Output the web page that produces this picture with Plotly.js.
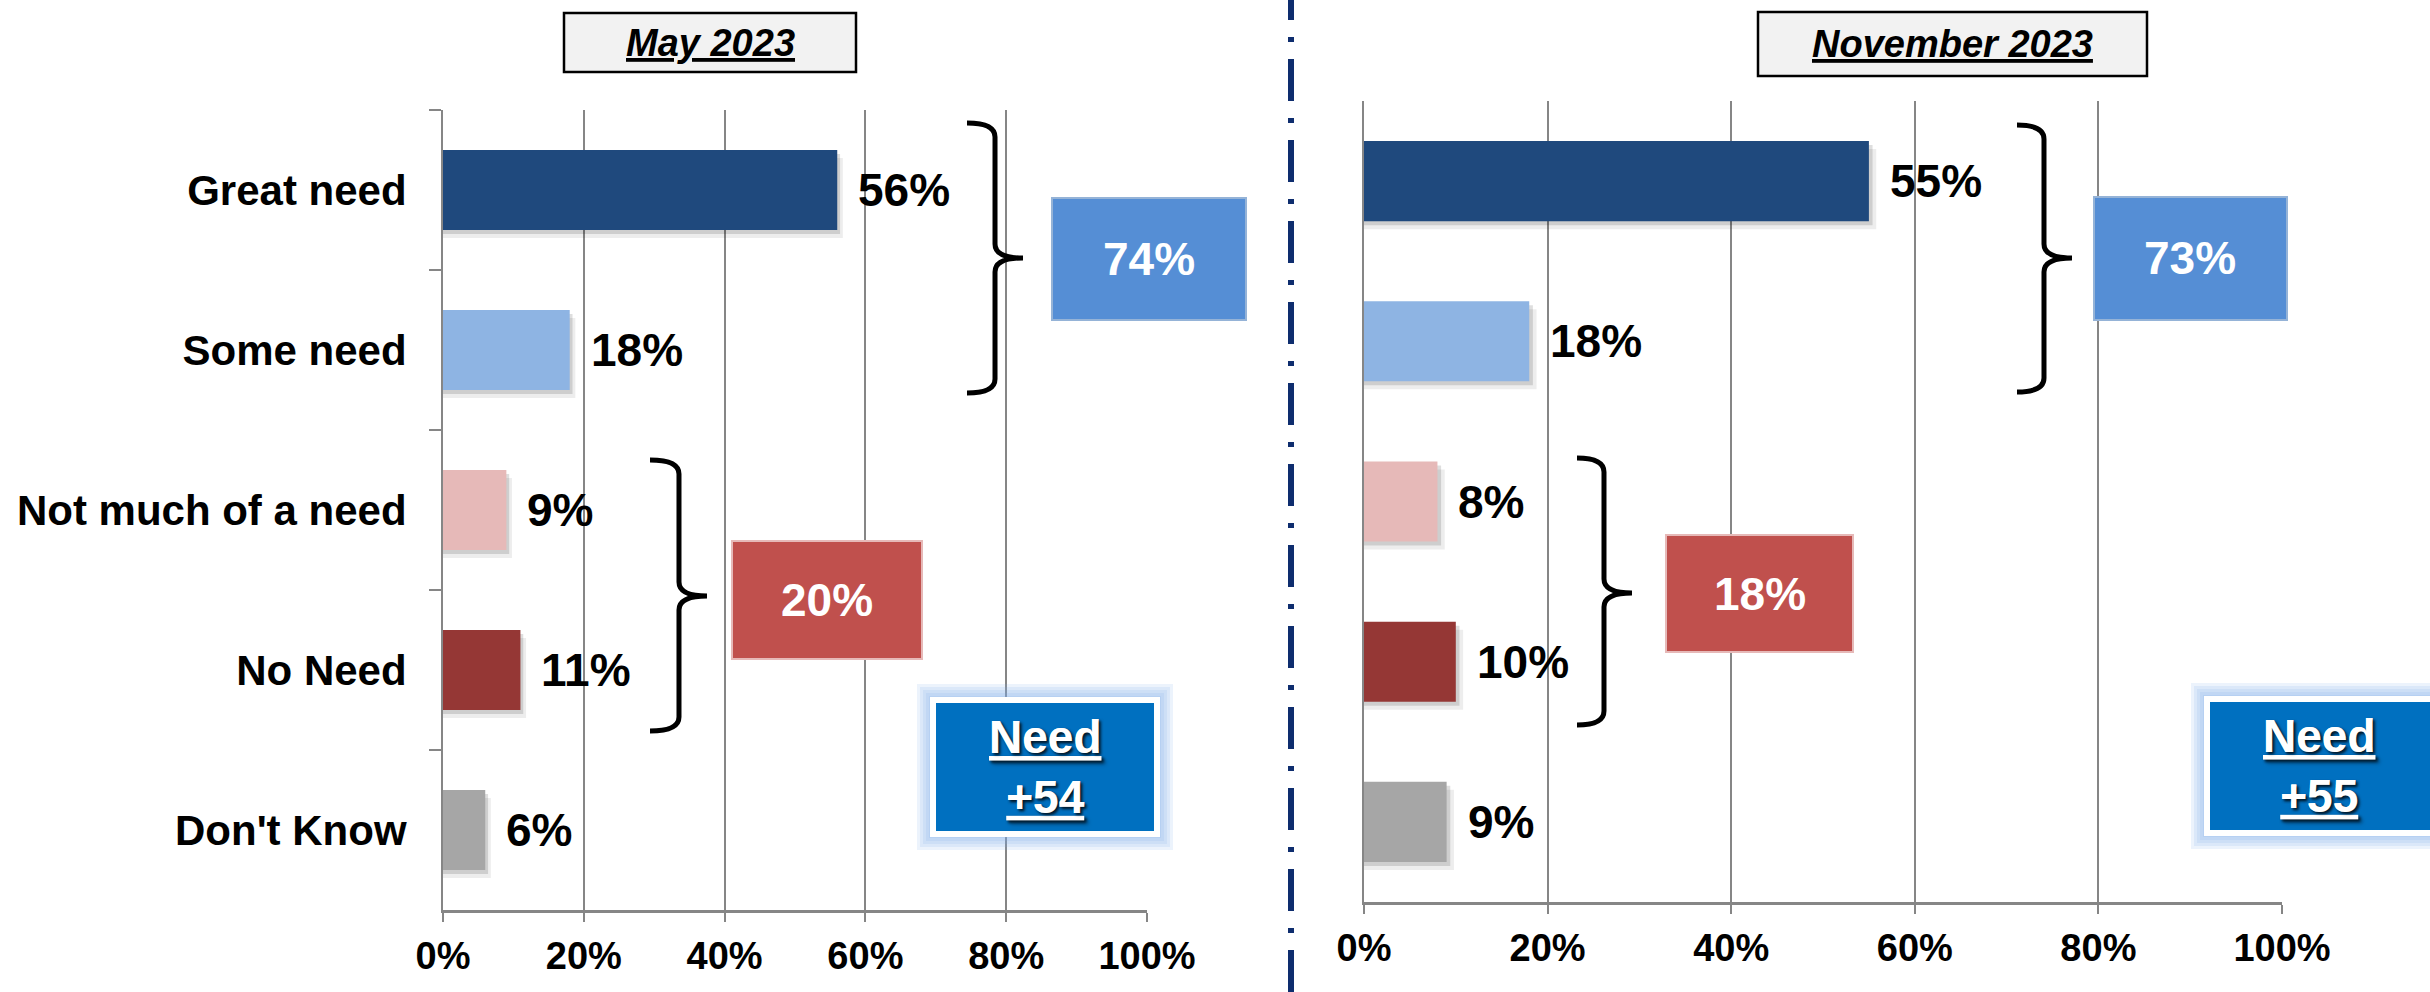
<!DOCTYPE html>
<html>
<head>
<meta charset="utf-8">
<script src="https://cdn.plot.ly/plotly-3.0.1.min.js"></script>
<style>html,body{margin:0;padding:0;background:#fff;}#chart{width:2430px;height:992px;}</style>
</head>
<body>
<div id="chart"></div>
<script>
// ---- data ----
const categories = ["Great need", "Some need", "Not much of a need", "No Need", "Don't Know"];
const may2023 = [56, 18, 9, 11, 6];
const nov2023 = [55, 18, 8, 10, 9];
const barColors = ["#1F497D", "#8EB4E3", "#E6B9B8", "#953735", "#A6A6A6"];
const xTickVals = [0, 20, 40, 60, 80, 100];
const xTickText = ["0%", "20%", "40%", "60%", "80%", "100%"];
const panelTitles = ["May 2023", "November 2023"];

// ---- layout helpers ----
const W = 2430, H = 992;
const px = x => x / W;
const py = y => 1 - y / H;
const FONT = "Arial, 'Liberation Sans', sans-serif";

const traces = [];
function addPanel(vals, xa, ya) {
  // soft shadow layers
  traces.push({type: 'bar', orientation: 'h', y: categories, x: vals.map(v => v + 0.8),
    xaxis: xa, yaxis: ya, width: 0.5, offset: -0.25 + 8 / 160,
    marker: {color: 'rgba(0,0,0,0.07)'}, hoverinfo: 'skip', showlegend: false});
  traces.push({type: 'bar', orientation: 'h', y: categories, x: vals.map(v => v + 0.4),
    xaxis: xa, yaxis: ya, width: 0.5, offset: -0.25 + 4 / 160,
    marker: {color: 'rgba(0,0,0,0.13)'}, hoverinfo: 'skip', showlegend: false});
  traces.push({type: 'bar', orientation: 'h', y: categories, x: vals,
    xaxis: xa, yaxis: ya, width: 0.5, offset: -0.25,
    marker: {color: barColors}, showlegend: false});
}
addPanel(may2023, 'x', 'y');
addPanel(nov2023, 'x2', 'y2');

const gridC = '#868686';
function xAxis(domain, anchor) {
  return {domain: domain, anchor: anchor, range: [0, 100], tickvals: xTickVals, ticktext: xTickText,
    showgrid: true, gridcolor: gridC, gridwidth: 2, zeroline: false,
    showline: true, linecolor: gridC, linewidth: 3,
    ticks: 'outside', ticklen: 9, tickwidth: 2, tickcolor: gridC,
    tickfont: {family: FONT, size: 38, color: '#000', weight: 'bold'},
    ticklabelstandoff: 1, automargin: false, fixedrange: true};
}
function yAxis(domain, anchor, labels) {
  return {domain: domain, anchor: anchor, type: 'category', categoryarray: categories,
    range: [4.5, -0.5], showgrid: false, zeroline: false,
    showline: true, linecolor: gridC, linewidth: 2,
    ticks: labels ? 'outside' : '', tickson: 'boundaries', ticklen: 12, tickwidth: 2, tickcolor: gridC,
    showticklabels: labels,
    tickfont: {family: FONT, size: 42, color: '#000', weight: 'bold'},
    ticklabelstandoff: 26, automargin: false, fixedrange: true};
}

const shapes = [];
const annotations = [];

function rectPx(x0, y0, x1, y1, fill, line, lw) {
  shapes.push({type: 'rect', xref: 'paper', yref: 'paper', x0: px(x0), x1: px(x1), y0: py(y0), y1: py(y1),
    fillcolor: fill, line: {color: line || 'rgba(0,0,0,0)', width: lw || 0}});
}
function textPx(x, y, text, size, color, extra, fontExtra) {
  annotations.push(Object.assign({xref: 'paper', yref: 'paper', x: px(x), y: py(y), text: text,
    showarrow: false, xanchor: 'center', yanchor: 'middle',
    font: Object.assign({family: FONT, size: size, color: color, weight: 'bold'}, fontExtra || {})}, extra || {}));
}
function brace(x0, xv, xt, yTop, yTip, yBot) {
  const r = 14;
  const P = (x, y) => px(x).toFixed(5) + ',' + py(y).toFixed(5);
  const d = 'M ' + P(x0, yTop) + ' Q ' + P(xv, yTop) + ' ' + P(xv, yTop + r) +
    ' L ' + P(xv, yTip - r) + ' Q ' + P(xv, yTip) + ' ' + P(xt, yTip) +
    ' Q ' + P(xv, yTip) + ' ' + P(xv, yTip + r) +
    ' L ' + P(xv, yBot - r) + ' Q ' + P(xv, yBot) + ' ' + P(x0, yBot);
  shapes.push({type: 'path', xref: 'paper', yref: 'paper', path: d, line: {color: '#000', width: 5}});
}
function needBox(x0, y0, x1, y1) {
  [16, 13, 10, 7, 4].forEach(g => {
    rectPx(x0 - g, y0 - g, x1 + g, y1 + g, 'rgba(120,168,232,0.14)');
  });
  rectPx(x0, y0, x1, y1, '#0070C0', '#FFFFFF', 6);
}

// panel titles
rectPx(564, 13, 856, 72, '#F2F2F2', '#000', 2.5);
textPx(710, 43, '<i><u>' + panelTitles[0] + '</u></i>', 38, '#000');
rectPx(1758, 12, 2147, 76, '#F2F2F2', '#000', 2.5);
textPx(1952, 44, '<i><u>' + panelTitles[1] + '</u></i>', 38, '#000');

// divider
shapes.push({type: 'line', xref: 'paper', yref: 'paper', x0: px(1291), x1: px(1291), y0: 0, y1: 1,
  line: {color: '#0E2D6E', width: 6, dash: '42px,17px,5px,17px'}});

// summary boxes computed from the data
function summaries(vals) {
  const need = vals[0] + vals[1];
  const noNeed = vals[2] + vals[3];
  return {need: need, noNeed: noNeed, net: need - noNeed};
}
const sMay = summaries(may2023), sNov = summaries(nov2023);
const txtShadow = {shadow: '2px 2px 3px rgba(0,0,0,0.55)'};

// left panel
brace(967, 995, 1023, 123, 258, 393);
brace(650, 679, 707, 460, 596, 731);
rectPx(1052, 198, 1246, 320, '#558ED5', '#95B3D7', 2);
textPx(1149, 259, sMay.need + '%', 46, '#FFFFFF');
rectPx(732, 541, 922, 659, '#C0504D', '#E6B9B8', 2);
textPx(827, 600, sMay.noNeed + '%', 46, '#FFFFFF');
needBox(933, 700, 1157, 834);
textPx(1045, 767, '<u>Need</u><br><u>+' + sMay.net + '</u>', 46, '#FFFFFF', null, txtShadow);

// right panel
brace(2017, 2044, 2072, 125, 258, 392);
brace(1577, 1604, 1632, 458, 593, 725);
rectPx(2094, 197, 2287, 320, '#558ED5', '#95B3D7', 2);
textPx(2190, 258, sNov.need + '%', 46, '#FFFFFF');
rectPx(1666, 535, 1853, 652, '#C0504D', '#E6B9B8', 2);
textPx(1760, 594, sNov.noNeed + '%', 46, '#FFFFFF');
needBox(2207, 699, 2440, 833);
textPx(2319, 766, '<u>Need</u><br><u>+' + sNov.net + '</u>', 46, '#FFFFFF', null, txtShadow);

// data labels
function dataLabels(vals, xa, ya) {
  vals.forEach((v, i) => {
    annotations.push({xref: xa, yref: ya, x: v, y: categories[i], text: v + '%', showarrow: false,
      xanchor: 'left', yanchor: 'middle', xshift: 19,
      font: {family: FONT, size: 46, color: '#000', weight: 'bold'}});
  });
}
dataLabels(may2023, 'x', 'y');
dataLabels(nov2023, 'x2', 'y2');

const layout = {
  width: W, height: H, margin: {l: 0, r: 0, t: 0, b: 0},
  paper_bgcolor: '#FFFFFF', plot_bgcolor: 'rgba(0,0,0,0)',
  barmode: 'overlay', showlegend: false,
  xaxis: xAxis([443 / W, 1147 / W], 'y'),
  yaxis: yAxis([1 - 910 / H, 1 - 110 / H], 'x', true),
  xaxis2: xAxis([1364 / W, 2282 / W], 'y2'),
  yaxis2: yAxis([1 - 902 / H, 1 - 101 / H], 'x2', false),
  shapes: shapes, annotations: annotations
};
Plotly.newPlot('chart', traces, layout, {staticPlot: true, displayModeBar: false});
</script>
</body>
</html>
